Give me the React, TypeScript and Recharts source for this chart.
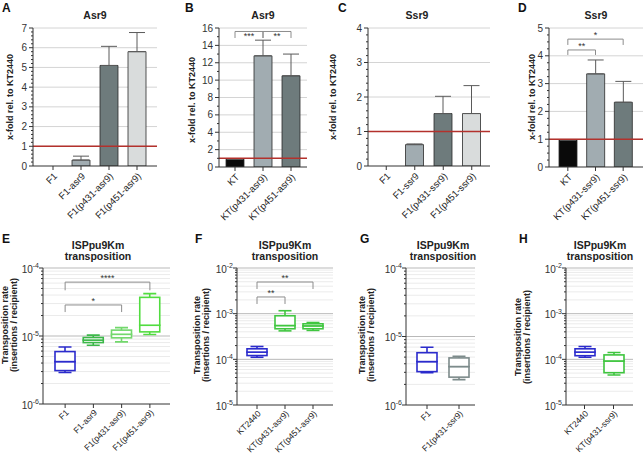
import React from "react";
import {
  ComposedChart,
  Bar,
  XAxis,
  YAxis,
  ReferenceLine,
  ErrorBar,
  Cell,
  CartesianGrid,
} from "recharts";

// ---------- data: expression (A-D) ----------
const catsA = ["F1", "F1-asr9", "F1(p431-asr9)", "F1(p451-asr9)"];
const valsA = [0, 0.3, 5.1, 5.8];
const errA = [0, 0.2, 0.97, 0.97];
const ticksA = [0, 1, 2, 3, 4, 5, 6, 7];

const catsB = ["KT", "KT(p431-asr9)", "KT(p451-asr9)"];
const valsB = [0.9, 12.8, 10.5];
const errB = [0, 1.8, 2.5];
const ticksB = [0, 2, 4, 6, 8, 10, 12, 14, 16];

const catsC = ["F1", "F1-ssr9", "F1(p431-ssr9)", "F1(p451-ssr9)"];
const valsC = [0, 0.62, 1.52, 1.52];
const errC = [0, 0.02, 0.5, 0.81];
const ticksC = [0, 1, 2, 3, 4];

const catsD = ["KT", "KT(p431-ssr9)", "KT(p451-ssr9)"];
const valsD = [0.97, 3.35, 2.33];
const errD = [0, 0.5, 0.75];
const ticksD = [0, 1, 2, 3, 4, 5];

// ---------- data: transposition box plots (E-H) ----------
const catsE = ["F1", "F1-asr9", "F1(p431-asr9)", "F1(p451-asr9)"];
const minE = [2.9e-6, 7.3e-6, 8.2e-6, 1.05e-5];
const q1E = [3.1e-6, 8.0e-6, 9.4e-6, 1.15e-5];
const medE = [4.2e-6, 8.7e-6, 1.06e-5, 1.44e-5];
const q3E = [5.9e-6, 9.5e-6, 1.22e-5, 3.7e-5];
const maxE = [6.9e-6, 1.03e-5, 1.33e-5, 4.2e-5];

const catsF = ["KT2440", "KT(p431-asr9)", "KT(p451-asr9)"];
const minF = [1.11e-4, 4.2e-4, 4.3e-4];
const q1F = [1.21e-4, 4.67e-4, 4.67e-4];
const medF = [1.44e-4, 5.5e-4, 5.4e-4];
const q3F = [1.7e-4, 9.0e-4, 6.0e-4];
const maxF = [1.91e-4, 1.16e-3, 6.4e-4];

const catsG = ["F1", "F1(p431-ssr9)"];
const minG = [2.95e-6, 2.35e-6];
const q1G = [3.07e-6, 2.55e-6];
const medG = [4.3e-6, 3.64e-6];
const q3G = [5.8e-6, 4.87e-6];
const maxG = [6.98e-6, 5.15e-6];

const catsH = ["KT2440", "KT(p431-ssr9)"];
const minH = [1.11e-4, 4.55e-5];
const q1H = [1.2e-4, 5.1e-5];
const medH = [1.44e-4, 9.2e-5];
const q3H = [1.7e-4, 1.25e-4];
const maxH = [1.91e-4, 1.41e-4];

const decE = [-6, -5, -4];
const decF = [-5, -4, -3, -2];

// significance brackets
const sigB = [
  { from: "KT", to: "KT(p431-asr9)", y: 15.6, drop: 14.85, label: "***", pos: "bottom" },
  { from: "KT(p431-asr9)", to: "KT(p451-asr9)", y: 15.6, drop: 14.85, label: "**", pos: "bottom" },
];
const sigD = [
  { from: "KT", to: "KT(p451-ssr9)", y: 4.6, drop: 4.39, label: "*", pos: "top" },
  { from: "KT", to: "KT(p431-ssr9)", y: 4.21, drop: 4.03, label: "**", pos: "top" },
];
const sigE = [
  { from: "F1", to: "F1(p451-asr9)", y: 6.2e-5, drop: 4.7e-5, label: "****", pos: "top" },
  { from: "F1", to: "F1(p431-asr9)", y: 2.86e-5, drop: 2.25e-5, label: "*", pos: "top" },
];
const sigF = [
  { from: "KT2440", to: "KT(p451-asr9)", y: 4.93e-3, drop: 3.47e-3, label: "**", pos: "top" },
  { from: "KT2440", to: "KT(p431-asr9)", y: 2.32e-3, drop: 1.63e-3, label: "**", pos: "top" },
];

// colours
const barColsA = ["#000000", "#a1acb1", "#6e7b7c", "#d9dcdc"];
const barColsB = ["#0a0a0a", "#a1acb1", "#6e7b7c"];
const boxColsE = ["#2b2bcc", "#3db84a", "#72d86c", "#52dc40"];
const boxColsF = ["#2b2bcc", "#40c640", "#40c640"];
const boxColsG = ["#2b2bcc", "#7d8b8b"];
const boxColsH = ["#2b2bcc", "#3ec53e"];

const FONT = "'Liberation Sans', Arial, sans-serif";

type Geo = { ax: number; top: number; bottom: number; right: number };
const chartBox = (g: Geo) => ({
  left: g.ax - 30,
  top: g.top - 10,
  width: g.right - g.ax + 31,
  height: g.bottom - g.top + 70,
});

const linTicks = (max: number, step: number) => {
  const out: number[] = [];
  for (let i = 0; i * step <= max + 1e-9; i++) out.push(Math.round(i * step * 1000) / 1000);
  return out;
};

const YTick = (props: any) => {
  const { x, y, payload, majors, log } = props;
  const v = payload.value;
  const major = majors.some((m: number) => Math.abs(m - v) <= Math.abs(m) * 1e-6);
  return (
    <g>
      <line x1={x} x2={x - (major ? 4 : 2)} y1={y} y2={y} stroke="#333" strokeWidth={1} />
      {major &&
        (log ? (
          <text x={x - 4} y={y + 1} textAnchor="end" dominantBaseline="central" fontSize={10} fill="#333" fontFamily={FONT}>
            10
            <tspan dy={-4} fontSize={7}>
              {Math.round(Math.log10(v))}
            </tspan>
          </text>
        ) : (
          <text x={x - 6} y={y} textAnchor="end" dominantBaseline="central" fontSize={10} fill="#333" fontFamily={FONT}>
            {v}
          </text>
        ))}
    </g>
  );
};

const xTickStyle = (size: number) => ({ fontSize: size, fill: "#222", fontFamily: FONT, textAnchor: "end" });

const renderBrackets = (bs: any[]) =>
  bs.flatMap((b, i) => [
    <ReferenceLine
      key={`h${i}`}
      segment={[{ x: b.from, y: b.y }, { x: b.to, y: b.y }]}
      stroke="#8c8c8c"
      ifOverflow="visible"
      label={{ value: b.label, position: b.pos, offset: 1, fontSize: 9, fill: "#333", fontFamily: FONT }}
    />,
    <ReferenceLine key={`l${i}`} segment={[{ x: b.from, y: b.y }, { x: b.from, y: b.drop }]} stroke="#8c8c8c" ifOverflow="visible" />,
    <ReferenceLine key={`r${i}`} segment={[{ x: b.to, y: b.y }, { x: b.to, y: b.drop }]} stroke="#8c8c8c" ifOverflow="visible" />,
  ]);

function BarPanel(props: any) {
  const { geo, cats, vals, errs, colors, majors, minorStep, pad, brackets } = props;
  const max = majors[majors.length - 1];
  const data = cats.map((c: string, i: number) => ({ name: c, v: vals[i], e: [0, errs[i]] }));
  const box = chartBox(geo);
  return (
    <div style={{ position: "absolute", ...box }}>
      <ComposedChart width={box.width} height={box.height} data={data} margin={{ top: 10, right: 1, left: 0, bottom: 0 }}>
        <CartesianGrid vertical={false} horizontalValues={majors.filter((m: number) => m > 0)} stroke="#d4d4d4" />
        <XAxis dataKey="name" interval={0} angle={-45} tick={xTickStyle(9.5)} tickSize={4} tickMargin={2} height={60} padding={pad} stroke="#333" />
        <YAxis
          type="number"
          domain={[0, max]}
          ticks={linTicks(max, minorStep)}
          interval={0}
          width={30}
          tickLine={false}
          tickSize={0}
          tickMargin={0}
          allowDataOverflow
          stroke="#333"
          tick={<YTick majors={majors} />}
        />
        <Bar dataKey="v" barSize={18} isAnimationActive={false} stroke="#2a2a2a" strokeWidth={0.8}>
          {data.map((_: any, i: number) => (
            <Cell key={i} fill={colors[i]} />
          ))}
          <ErrorBar dataKey="e" width={8} stroke="#5a5a5a" strokeWidth={1} direction="y" isAnimationActive={false} />
        </Bar>
        <ReferenceLine y={1} stroke="#b3312c" strokeWidth={1.6} />
        {brackets ? renderBrackets(brackets) : null}
      </ComposedChart>
    </div>
  );
}

function BoxPanel(props: any) {
  const { geo, cats, mins, q1s, meds, q3s, maxs, colors, decades, pad, brackets } = props;
  const majors = decades.map((d: number) => Math.pow(10, d));
  const minors: number[] = [];
  decades.slice(0, -1).forEach((d: number) => {
    for (let k = 2; k <= 9; k++) minors.push(k * Math.pow(10, d));
  });
  const data = cats.map((c: string, i: number) => ({
    name: c,
    whisk: [mins[i], maxs[i]],
    lo: [q1s[i], meds[i]],
    hi: [meds[i], q3s[i]],
  }));
  const box = chartBox(geo);
  const whisker = (p: any) => {
    const cx = p.x + p.width / 2;
    const y1 = Math.min(p.y, p.y + p.height);
    const y2 = Math.max(p.y, p.y + p.height);
    const c = colors[p.index];
    return (
      <g>
        <line x1={cx} x2={cx} y1={y1} y2={y2} stroke={c} strokeWidth={1.6} />
        <line x1={cx - 6.5} x2={cx + 6.5} y1={y1} y2={y1} stroke={c} strokeWidth={1.6} />
        <line x1={cx - 6.5} x2={cx + 6.5} y1={y2} y2={y2} stroke={c} strokeWidth={1.6} />
      </g>
    );
  };
  const boxShape = (p: any) => {
    const y1 = Math.min(p.y, p.y + p.height);
    return (
      <rect x={p.x} y={y1} width={p.width} height={Math.abs(p.height)} fill="#fff" stroke={colors[p.index]} strokeWidth={1.6} />
    );
  };
  return (
    <div style={{ position: "absolute", ...box }}>
      <ComposedChart width={box.width} height={box.height} data={data} margin={{ top: 10, right: 1, left: 0, bottom: 0 }}>
        <CartesianGrid vertical={false} horizontalValues={minors} stroke="#ebebeb" />
        <CartesianGrid vertical={false} horizontalValues={majors.slice(1)} stroke="#b9b9b9" />
        <XAxis dataKey="name" interval={0} angle={-45} tick={xTickStyle(8.5)} tickSize={4} tickMargin={1} height={60} padding={pad} stroke="#333" />
        <XAxis xAxisId="l" dataKey="name" hide padding={pad} />
        <XAxis xAxisId="h" dataKey="name" hide padding={pad} />
        <YAxis
          type="number"
          scale="log"
          domain={[majors[0], majors[majors.length - 1]]}
          ticks={[...majors, ...minors]}
          interval={0}
          width={30}
          tickLine={false}
          tickSize={0}
          tickMargin={0}
          allowDataOverflow
          stroke="#333"
          tick={<YTick majors={majors} log />}
        />
        <Bar dataKey="whisk" barSize={20} isAnimationActive={false} shape={whisker} />
        <Bar xAxisId="l" dataKey="lo" barSize={20} isAnimationActive={false} shape={boxShape} />
        <Bar xAxisId="h" dataKey="hi" barSize={20} isAnimationActive={false} shape={boxShape} />
        {brackets ? renderBrackets(brackets) : null}
      </ComposedChart>
    </div>
  );
}

const Label = ({ x, y, text, size = 12, bold = true }: any) => (
  <div
    style={{
      position: "absolute",
      left: x,
      top: y,
      transform: "translate(0, -50%)",
      fontSize: size,
      fontWeight: bold ? 700 : 400,
      fontFamily: FONT,
      color: "#111",
      whiteSpace: "nowrap",
      lineHeight: 1,
    }}
  >
    {text}
  </div>
);

const Title = ({ x, y, lines }: any) => (
  <div
    style={{
      position: "absolute",
      left: x,
      top: y,
      transform: "translate(-50%, -50%)",
      fontSize: 10.5,
      fontWeight: 700,
      fontFamily: FONT,
      color: "#222",
      whiteSpace: "nowrap",
      textAlign: "center",
      lineHeight: "11px",
    }}
  >
    {lines.map((l: string) => (
      <div key={l}>{l}</div>
    ))}
  </div>
);

const VLabel = ({ x, y, lines }: any) => (
  <div
    style={{
      position: "absolute",
      left: x,
      top: y,
      transform: "translate(-50%, -50%) rotate(-90deg)",
      fontSize: 9,
      fontWeight: 700,
      fontFamily: FONT,
      color: "#222",
      whiteSpace: "nowrap",
      textAlign: "center",
      lineHeight: "9px",
    }}
  >
    {lines.map((l: string) => (
      <div key={l}>{l}</div>
    ))}
  </div>
);

export default function App() {
  const yl = ["x-fold rel. to KT2440"];
  const tl = ["Transposition rate", "(insertions / recipient)"];
  const tt = ["ISPpu9Km", "transposition"];
  return (
    <div style={{ position: "absolute", left: 0, top: 0, width: 644, height: 457, background: "#fff", overflow: "hidden" }}>
      <BarPanel geo={{ ax: 33, top: 28, bottom: 166, right: 157 }} cats={catsA} vals={valsA} errs={errA} colors={barColsA} majors={ticksA} minorStep={0.2} pad={{ left: 6, right: 6 }} />
      <BarPanel geo={{ ax: 219, top: 28, bottom: 167, right: 307 }} cats={catsB} vals={valsB} errs={errB} colors={barColsB} majors={ticksB} minorStep={1} pad={{ left: 2, right: 2 }} brackets={sigB} />
      <BarPanel geo={{ ax: 368, top: 28, bottom: 166, right: 490 }} cats={catsC} vals={valsC} errs={errC} colors={barColsA} majors={ticksC} minorStep={0.2} pad={{ left: 4, right: 4 }} />
      <BarPanel geo={{ ax: 549, top: 28, bottom: 167, right: 643 }} cats={catsD} vals={valsD} errs={errD} colors={barColsB} majors={ticksD} minorStep={0.25} pad={{ left: 5, right: 6 }} brackets={sigD} />

      <BoxPanel geo={{ ax: 43, top: 268, bottom: 404, right: 170 }} cats={catsE} mins={minE} q1s={q1E} meds={medE} q3s={q3E} maxs={maxE} colors={boxColsE} decades={decE} pad={{ left: 8, right: 6 }} brackets={sigE} />
      <BoxPanel geo={{ ax: 237, top: 268, bottom: 405, right: 333 }} cats={catsF} mins={minF} q1s={q1F} meds={medF} q3s={q3F} maxs={maxF} colors={boxColsF} decades={decF} pad={{ left: 6, right: 6 }} brackets={sigF} />
      <BoxPanel geo={{ ax: 406, top: 268, bottom: 405, right: 475 }} cats={catsG} mins={minG} q1s={q1G} meds={medG} q3s={q3G} maxs={maxG} colors={boxColsG} decades={decE} pad={{ left: 5, right: 0 }} />
      <BoxPanel geo={{ ax: 566, top: 268, bottom: 405, right: 633 }} cats={catsH} mins={minH} q1s={q1H} meds={medH} q3s={q3H} maxs={maxH} colors={boxColsH} decades={decF} pad={{ left: 4, right: 5 }} />

      <Label x={2} y={8} text="A" />
      <Label x={185} y={8} text="B" />
      <Label x={338} y={8} text="C" />
      <Label x={518} y={8} text="D" />
      <Label x={2} y={239} text="E" />
      <Label x={195} y={239} text="F" />
      <Label x={360} y={239} text="G" />
      <Label x={519} y={239} text="H" />

      <Title x={95} y={15} lines={["Asr9"]} />
      <Title x={263} y={15} lines={["Asr9"]} />
      <Title x={417} y={15} lines={["Ssr9"]} />
      <Title x={596} y={15} lines={["Ssr9"]} />
      <Title x={98} y={251} lines={tt} />
      <Title x={285} y={251} lines={tt} />
      <Title x={443} y={251} lines={tt} />
      <Title x={600} y={251} lines={tt} />

      <VLabel x={10} y={97} lines={yl} />
      <VLabel x={192} y={100} lines={yl} />
      <VLabel x={333} y={97} lines={yl} />
      <VLabel x={532} y={97} lines={yl} />
      <VLabel x={10} y={325} lines={tl} />
      <VLabel x={202} y={335} lines={tl} />
      <VLabel x={367} y={335} lines={tl} />
      <VLabel x={523} y={337} lines={tl} />
    </div>
  );
}
